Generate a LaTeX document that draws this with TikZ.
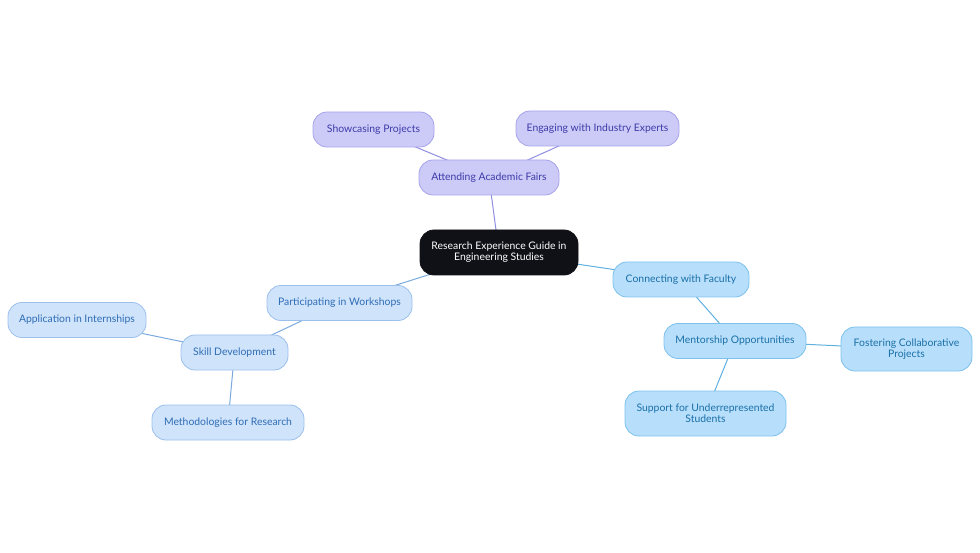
\documentclass[tikz,border=0pt]{standalone}
\usepackage{fontspec}
\setmainfont{Lato}
\usetikzlibrary{backgrounds}
\definecolor{rootfill}{HTML}{0F1117}
\definecolor{lavfill}{HTML}{CCCBF8}
\definecolor{lavdraw}{HTML}{A7A3EA}
\definecolor{lavtext}{HTML}{3E3AA8}
\definecolor{lavedge}{HTML}{8F8EE0}
\definecolor{bluefill}{HTML}{CFE3FB}
\definecolor{bluedraw}{HTML}{9CC0EC}
\definecolor{bluetext}{HTML}{2F6DB5}
\definecolor{blueedge}{HTML}{7AA9DD}
\definecolor{skyfill}{HTML}{B7DFFB}
\definecolor{skydraw}{HTML}{7CC0EC}
\definecolor{skytext}{HTML}{1A6FA8}
\definecolor{skyedge}{HTML}{5FB0E0}
\tikzset{
  base/.style={rounded corners=14pt, line width=0.8pt, inner sep=0pt, align=center,
    font=\fontsize{10.4}{11}\selectfont, minimum height=35pt},
  rootbox/.style={base, fill=rootfill, draw=rootfill, text=white, minimum height=45pt},
  lavbox/.style={base, fill=lavfill, draw=lavdraw, text=lavtext},
  bluebox/.style={base, fill=bluefill, draw=bluedraw, text=bluetext},
  skybox/.style={base, fill=skyfill, draw=skydraw, text=skytext},
  lavline/.style={draw=lavedge, line width=1pt},
  blueline/.style={draw=blueedge, line width=1pt},
  skyline/.style={draw=skyedge, line width=1pt}
}
\begin{document}
\begin{tikzpicture}[x=1pt,y=-1pt]
\useasboundingbox (0,0) rectangle (980,553);
\node[rootbox, minimum width=158pt] (root) at (499,252.5) {Research Experience Guide in\\Engineering Studies};
\node[lavbox, minimum width=140pt] (fairs) at (489,177.5) {Attending Academic Fairs};
\node[lavbox, minimum width=121pt] (show) at (373.5,129.5) {Showcasing Projects};
\node[lavbox, minimum width=163pt] (engage) at (597.5,128.5) {Engaging with Industry Experts};
\node[bluebox, minimum width=145pt] (work) at (339.5,303) {Participating in Workshops};
\node[bluebox, minimum width=107pt] (skill) at (234.5,352.5) {Skill Development};
\node[bluebox, minimum width=138pt] (intern) at (77,320) {Application in Internships};
\node[bluebox, minimum width=152pt] (method) at (228,422.5) {Methodologies for Research};
\node[skybox, minimum width=136pt] (faculty) at (681,279.5) {Connecting with Faculty};
\node[skybox, minimum width=142pt] (mentor) at (735,341) {Mentorship Opportunities};
\node[skybox, minimum width=131pt, minimum height=44pt] (foster) at (906.5,349) {Fostering Collaborative\\Projects};
\node[skybox, minimum width=161pt, minimum height=45pt] (support) at (705.5,413.5) {Support for Underrepresented\\Students};
\begin{pgfonlayer}{background}
\draw[lavline] (root.center) -- (fairs.center);
\draw[lavline] (fairs.center) -- (show.center);
\draw[lavline] (fairs.center) -- (engage.center);
\draw[blueline] (root.center) -- (work.center);
\draw[blueline] (work.center) -- (skill.center);
\draw[blueline] (skill.center) -- (intern.center);
\draw[blueline] (skill.center) -- (method.center);
\draw[skyline] (root.center) -- (faculty.center);
\draw[skyline] (faculty.center) -- (mentor.center);
\draw[skyline] (mentor.center) -- (foster.center);
\draw[skyline] (mentor.center) -- (support.center);
\end{pgfonlayer}
\end{tikzpicture}
\end{document}
